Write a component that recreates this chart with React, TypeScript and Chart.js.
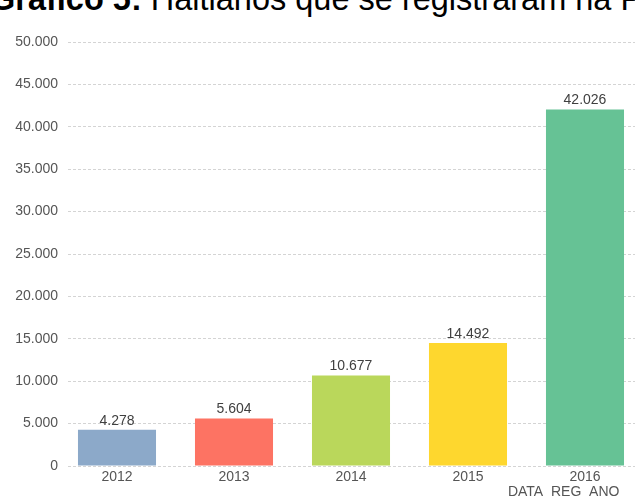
import React, { useEffect, useRef } from "react";
import { Chart, registerables } from "chart.js";

Chart.register(...registerables);

const years = [2012, 2013, 2014, 2015, 2016];
const values = [4278, 5604, 10677, 14492, 42026];
const barColors = ["#8CA9C9", "#FD7363", "#BAD75B", "#FED72E", "#66C295"];
const yTicksMax = 50000;
const yStep = 5000;
const axisTitle = "DATA_REG_ANO";

const fmt = (v: number) =>
  String(Math.round(v)).replace(/\B(?=(\d{3})+(?!\d))/g, ".");

const valueLabels = {
  id: "valueLabels",
  afterDatasetsDraw(chart: any) {
    const ctx = chart.ctx;
    const meta = chart.getDatasetMeta(0);
    ctx.save();
    ctx.font = '14px "Liberation Sans", Arial, sans-serif';
    ctx.fillStyle = "#404040";
    ctx.textAlign = "center";
    ctx.textBaseline = "bottom";
    meta.data.forEach((bar: any, i: number) => {
      ctx.fillText(fmt(values[i]), bar.x, bar.y - 2);
    });
    ctx.restore();
  },
};

export default function App() {
  const ref = useRef<HTMLCanvasElement>(null);
  useEffect(() => {
    if (!ref.current) return;
    Chart.defaults.font.family = '"Liberation Sans", Arial, sans-serif';
    const chart = new Chart(ref.current, {
      type: "bar",
      data: {
        datasets: [
          {
            data: years.map((y, i) => ({ x: y, y: values[i] })),
            backgroundColor: barColors,
            borderWidth: 0,
            barPercentage: 0.667,
            categoryPercentage: 1,
          },
        ],
      },
      options: {
        animation: false,
        responsive: false,
        maintainAspectRatio: false,
        layout: { padding: { top: 42, right: 0, left: 0, bottom: 0 } },
        plugins: { legend: { display: false }, tooltip: { enabled: false } },
        scales: {
          x: {
            type: "linear",
            offset: false,
            min: 2011.5812,
            max: 2016.4274,
            grid: { display: false, drawTicks: false },
            border: { display: false },
            ticks: {
              stepSize: 1,
              includeBounds: false,
              padding: 3,
              color: "#555555",
              font: { size: 14 },
              callback: (v: any) => String(v),
            },
            title: {
              display: true,
              text: axisTitle + "    ",
              align: "end",
              color: "#555555",
              font: { size: 14 },
              padding: { top: 0, bottom: -3 },
            },
            afterFit: (s: any) => {
              s.height = 32;
            },
          },
          y: {
            min: 0,
            max: yTicksMax,
            grid: {
              color: "#d4d4d4",
              drawTicks: false,
            },
            border: { display: false, dash: [3, 2] },
            ticks: {
              stepSize: yStep,
              padding: 10,
              color: "#555555",
              font: { size: 14 },
              callback: (v: any) => fmt(Number(v)),
            },
            afterFit: (s: any) => {
              s.width = 68;
            },
          },
        },
      },
      plugins: [valueLabels],
    });
    return () => chart.destroy();
  }, []);

  return (
    <div
      style={{
        position: "fixed",
        left: 0,
        top: 0,
        width: 635,
        height: 498,
        overflow: "hidden",
        background: "#fff",
      }}
    >
      <div
        style={{
          position: "absolute",
          left: -10,
          top: -17,
          fontFamily: '"Liberation Sans", Arial, sans-serif',
          fontSize: 32.5,
          lineHeight: "32px",
          whiteSpace: "nowrap",
          color: "#000",
        }}
      >
        <b>Gráfico 5:</b> Haitianos que se registraram na Polícia Federal
      </div>
      <canvas
        ref={ref}
        width={635}
        height={498}
        style={{ position: "absolute", left: 0, top: 0, width: 635, height: 498 }}
      />
    </div>
  );
}
